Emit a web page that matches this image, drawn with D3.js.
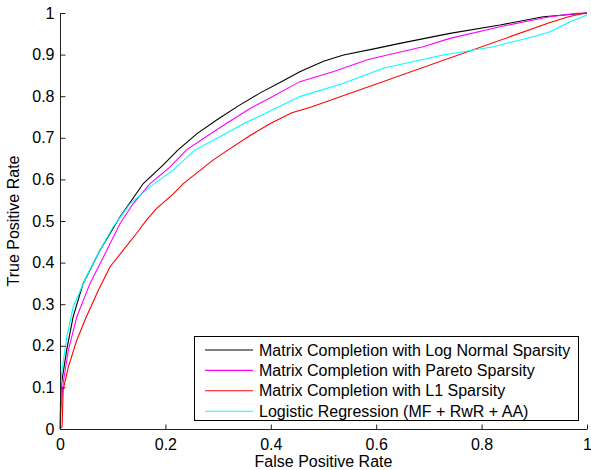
<!DOCTYPE html>
<html><head><meta charset="utf-8">
<script src="https://cdn.jsdelivr.net/npm/d3@7"></script>
<style>
body{margin:0;background:#fff;}
text{font-family:"Liberation Sans",Arial,sans-serif;fill:#000;}
</style></head>
<body><svg id="c" width="591" height="470"></svg>
<script>
const seriesNames = [
  "Matrix Completion with Log Normal Sparsity",
  "Matrix Completion with Pareto Sparsity",
  "Matrix Completion with L1 Sparsity",
  "Logistic Regression (MF + RwR + AA)"
];
const seriesColors = ["#000000", "#ff00ff", "#ff0000", "#00ffff"];

const logNormalFpr = [0, 0.001, 0.003, 0.0127, 0.025, 0.044, 0.076, 0.114, 0.158, 0.196, 0.224, 0.26, 0.30, 0.34, 0.38, 0.42, 0.455, 0.50, 0.538, 0.60, 0.645, 0.74, 0.835, 0.917, 1.0];
const logNormalTpr = [0, 0.05, 0.11, 0.19, 0.27, 0.35, 0.43, 0.51, 0.59, 0.635, 0.671, 0.71, 0.745, 0.778, 0.808, 0.835, 0.859, 0.884, 0.899, 0.915, 0.927, 0.951, 0.971, 0.991, 1.0];

const paretoFpr = [0, 0.002, 0.006, 0.016, 0.032, 0.057, 0.089, 0.114, 0.139, 0.171, 0.209, 0.24, 0.28, 0.32, 0.36, 0.40, 0.455, 0.518, 0.582, 0.607, 0.689, 0.74, 0.835, 0.898, 0.93, 0.98, 1.0];
const paretoTpr = [0, 0.05, 0.11, 0.19, 0.27, 0.35, 0.43, 0.494, 0.542, 0.59, 0.63, 0.671, 0.705, 0.738, 0.77, 0.797, 0.835, 0.859, 0.887, 0.895, 0.919, 0.939, 0.967, 0.983, 0.991, 0.999, 1.0];

const l1Fpr = [0, 0.004, 0.006, 0.016, 0.032, 0.05, 0.073, 0.095, 0.12, 0.145, 0.164, 0.183, 0.215, 0.234, 0.259, 0.291, 0.319, 0.36, 0.40, 0.44, 0.474, 0.93, 0.962, 0.975, 0.987, 1.0];
const l1Tpr = [0, 0.006, 0.094, 0.15, 0.214, 0.27, 0.334, 0.39, 0.43, 0.47, 0.502, 0.53, 0.565, 0.59, 0.615, 0.647, 0.671, 0.705, 0.735, 0.76, 0.773, 0.977, 0.99, 0.994, 0.997, 1.0];

const logRegFpr = [0, 0.0005, 0.003, 0.013, 0.025, 0.05, 0.076, 0.101, 0.133, 0.171, 0.215, 0.256, 0.30, 0.35, 0.40, 0.455, 0.538, 0.613, 0.727, 0.822, 0.898, 0.93, 0.949, 0.968, 0.992, 1.0];
const logRegTpr = [0, 0.06, 0.134, 0.222, 0.294, 0.366, 0.43, 0.486, 0.542, 0.582, 0.623, 0.671, 0.70, 0.735, 0.765, 0.799, 0.831, 0.867, 0.899, 0.919, 0.943, 0.955, 0.967, 0.979, 0.991, 0.995];

const xTicks = [0, 0.2, 0.4, 0.6, 0.8, 1];
const yTicks = [0, 0.1, 0.2, 0.3, 0.4, 0.5, 0.6, 0.7, 0.8, 0.9, 1];
const xTitle = "False Positive Rate";
const yTitle = "True Positive Rate";

const series = [
  {fpr: logNormalFpr, tpr: logNormalTpr},
  {fpr: paretoFpr, tpr: paretoTpr},
  {fpr: l1Fpr, tpr: l1Tpr},
  {fpr: logRegFpr, tpr: logRegTpr}
].map((s, i) => ({name: seriesNames[i], color: seriesColors[i], pts: s.fpr.map((f, j) => [f, s.tpr[j]])}));

const svg = d3.select("#c");
const x = d3.scaleLinear().domain([0, 1]).range([60, 587]);
const y = d3.scaleLinear().domain([0, 1]).range([429, 13]);

const line = d3.line().x(d => x(d[0])).y(d => y(d[1]));
const plot = svg.append("g");
series.forEach(s => {
  plot.append("path").datum(s.pts).attr("d", line)
    .attr("fill", "none").attr("stroke", s.color).attr("stroke-width", 1.1);
});

const xAxis = d3.axisBottom(x).tickValues(xTicks).tickSize(-5).tickPadding(9)
  .tickFormat(d => d3.format("")(d));
const yAxis = d3.axisLeft(y).tickValues(yTicks).tickSize(-5).tickPadding(6)
  .tickFormat(d => d3.format("")(d));

const gx = svg.append("g").attr("transform", "translate(0,429.5)").call(xAxis);
const gy = svg.append("g").attr("transform", "translate(60.5,0)").call(yAxis);
[gx, gy].forEach(g => {
  g.select(".domain").attr("stroke", "#222");
  g.selectAll(".tick line").attr("stroke", "#222");
  g.selectAll(".tick text").style("font-size", "16px").style("font-family", "'Liberation Sans',Arial,sans-serif").attr("fill", "#000");
});
gx.select(".domain").attr("d", "M" + x(0) + ",0H" + x(1));
gy.select(".domain").attr("d", "M0," + y(0) + "V" + y(1));
gx.selectAll(".tick text").attr("dy", "0.71em");

svg.append("text").attr("x", (x(0) + x(1)) / 2).attr("y", 466.5)
  .attr("text-anchor", "middle").style("font-size", "16px").text(xTitle);
svg.append("text").attr("transform", "translate(18.5," + ((y(0) + y(1)) / 2) + ") rotate(-90)")
  .attr("text-anchor", "middle").style("font-size", "16px").text(yTitle);

const lg = svg.append("g");
lg.append("rect").attr("x", 194.5).attr("y", 336.5).attr("width", 384).attr("height", 84)
  .attr("fill", "#fff").attr("stroke", "#000").attr("stroke-width", 1);
series.forEach((s, i) => {
  const yy = 350 + i * 20.4;
  lg.append("line").attr("x1", 205).attr("x2", 253).attr("y1", yy).attr("y2", yy)
    .attr("stroke", s.color).attr("stroke-width", 1.1);
  lg.append("text").attr("x", 259).attr("y", yy).attr("dy", "0.35em")
    .style("font-size", "16px").text(s.name);
});
</script></body></html>
